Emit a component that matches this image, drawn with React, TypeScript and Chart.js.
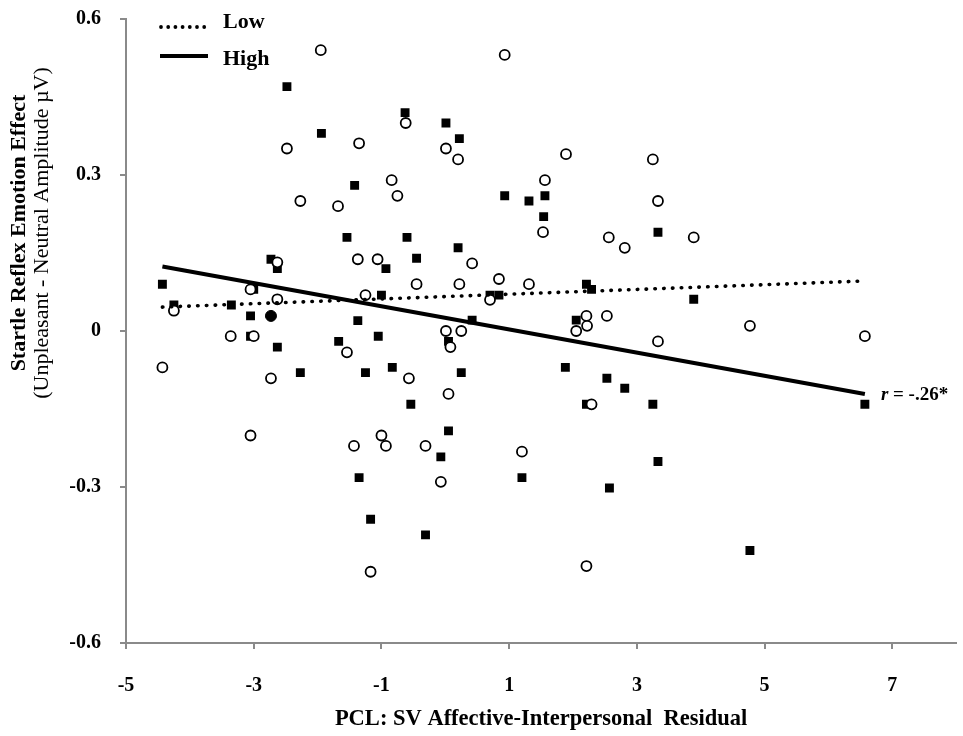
import { useEffect, useRef } from 'react';
import { Chart, registerables } from 'chart.js';

Chart.register(...registerables);

// ---- Data ----
const lowX = [
  -1.95, 0.93, -2.48, -1.35, -0.62, 0.01, 0.2, -0.84, -0.75, -2.27,
  -1.68, 1.89, 3.25, 1.56, 3.33, 1.53, 2.56, 2.81, 3.89, -2.63,
  -1.37, -1.06, 0.42, -0.45, 0.22, 0.84, 1.31, 0.7, -3.05, -2.63,
  -1.25, -4.25, 2.21, 2.22, 2.05, 2.53, 0.01, 0.25, 0.08, 3.33,
  -3.36, -3.0, -1.54, -4.43, -2.73, -0.57, 0.05, 2.29, 4.77, 6.57,
  -3.05, -1.43, -1.0, -0.93, -0.31, -0.07, 1.2, -1.17, 2.21,
];
const lowY = [
  0.54, 0.531, 0.351, 0.361, 0.4, 0.351, 0.33, 0.29, 0.26, 0.25,
  0.24, 0.34, 0.33, 0.29, 0.25, 0.19, 0.18, 0.16, 0.18, 0.132,
  0.138, 0.138, 0.13, 0.09, 0.09, 0.1, 0.09, 0.06, 0.08, 0.061,
  0.069, 0.039, 0.029, 0.01, 0.0, 0.029, 0.0, 0.0, -0.031, -0.02,
  -0.01, -0.01, -0.041, -0.07, -0.091, -0.091, -0.121, -0.141, 0.01, -0.01,
  -0.201, -0.221, -0.201, -0.221, -0.221, -0.29, -0.232, -0.463, -0.452,
];
const highX = [
  -2.48, -0.63, -1.94, 0.01, 0.22, -1.42, 0.93, 1.31, 1.56, 1.54,
  3.33, -1.54, -0.6, 0.2, -0.45, -2.73, -2.63, -0.93, -4.43, -3.0,
  -1.0, 0.7, 0.84, 2.21, 2.29, -4.25, -3.35, -3.05, -1.37, 0.42,
  2.05, 3.89, -3.05, -1.05, -2.63, -1.67, 0.05, -2.27, -1.25, -0.83,
  0.25, 1.88, 2.53, 2.81, -0.54, 2.21, 3.25, 6.57, 0.05, -0.07,
  -1.35, 1.2, 3.33, 2.57, -1.17, -0.31, 4.77,
];
const highY = [
  0.47, 0.42, 0.38, 0.4, 0.37, 0.28, 0.26, 0.25, 0.26, 0.22,
  0.19, 0.18, 0.18, 0.16, 0.14, 0.138, 0.12, 0.12, 0.09, 0.08,
  0.069, 0.069, 0.069, 0.09, 0.08, 0.05, 0.05, 0.029, 0.02, 0.021,
  0.021, 0.061, -0.01, -0.01, -0.031, -0.02, -0.02, -0.08, -0.08, -0.07,
  -0.08, -0.07, -0.091, -0.11, -0.141, -0.141, -0.141, -0.141, -0.192, -0.242,
  -0.282, -0.282, -0.251, -0.302, -0.362, -0.392, -0.422,
];
// overlapping (filled) point
const bothX = [-2.73];
const bothY = [0.029];

// fitted regression lines (end points)
const lowFitX = [-4.43, 6.52];
const lowFitY = [0.046, 0.096];
const highFitX = [-4.43, 6.57];
const highFitY = [0.124, -0.121];

const xTicks = [-5, -3, -1, 1, 3, 5, 7];
const yTicks = [-0.6, -0.3, 0, 0.3, 0.6];

const xTitle = 'PCL: SV Affective-Interpersonal  Residual';
const yTitleMain = 'Startle Reflex Emotion Effect';
const yTitleSub = '(Unpleasant - Neutral Amplitude \u00b5V)';
const legendLow = 'Low';
const legendHigh = 'High';
const rLabelItalic = 'r';
const rLabelRest = ' = -.26*';

const FONT = "'Liberation Serif', 'Times New Roman', serif";
const AXIS_GRAY = '#8a8a8a';

const pts = (xs: number[], ys: number[]) => xs.map((x, i) => ({ x, y: ys[i] }));

export default function App() {
  const ref = useRef<HTMLCanvasElement>(null);

  useEffect(() => {
    if (!ref.current) return;

    const overlay = {
      id: 'overlay',
      afterDraw(chart: any) {
        const ctx = chart.ctx as CanvasRenderingContext2D;
        const xs = chart.scales.x;
        const ys = chart.scales.y;
        const { left, top } = chart.chartArea;
        ctx.save();
        ctx.fillStyle = '#000';
        ctx.strokeStyle = '#000';

        // y-axis title (two lines, rotated)
        ctx.save();
        ctx.translate(19, 233);
        ctx.rotate(-Math.PI / 2);
        ctx.textAlign = 'center';
        ctx.textBaseline = 'middle';
        ctx.font = `bold 22px ${FONT}`;
        ctx.fillText(yTitleMain, 0, 0);
        ctx.font = `22px ${FONT}`;
        ctx.fillText(yTitleSub, 0, 23);
        ctx.restore();

        // legend
        const lx = left + 35;
        const dotY = top + 8;
        for (let i = 0; i < 7; i++) {
          ctx.beginPath();
          ctx.arc(lx + i * 7.2, dotY, 1.9, 0, Math.PI * 2);
          ctx.fill();
        }
        ctx.font = `bold 22px ${FONT}`;
        ctx.textAlign = 'left';
        ctx.textBaseline = 'alphabetic';
        ctx.fillText(legendLow, lx + 62, top + 9);
        ctx.lineWidth = 4;
        ctx.beginPath();
        ctx.moveTo(lx - 1, top + 37);
        ctx.lineTo(lx + 47, top + 37);
        ctx.stroke();
        ctx.fillText(legendHigh, lx + 62, top + 46);

        // r annotation at end of High fit line
        const ax = xs.getPixelForValue(highFitX[1]) + 16;
        const ay = ys.getPixelForValue(highFitY[1]) + 1;
        ctx.textBaseline = 'middle';
        ctx.font = `italic bold 19px ${FONT}`;
        ctx.fillText(rLabelItalic, ax, ay);
        const w = ctx.measureText(rLabelItalic).width;
        ctx.font = `bold 19px ${FONT}`;
        ctx.fillText(rLabelRest, ax + w, ay);

        ctx.restore();
      },
    };

    const chart = new Chart(ref.current, {
      type: 'scatter',
      data: {
        datasets: [
          {
            type: 'line',
            label: 'High fit',
            data: pts(highFitX, highFitY),
            borderColor: '#000',
            borderWidth: 4,
            pointRadius: 0,
            fill: false,
            order: 0,
          } as any,
          {
            type: 'line',
            label: 'Low fit',
            data: pts(lowFitX, lowFitY),
            borderColor: '#000',
            borderWidth: 3.6,
            borderDash: [0.5, 8.3],
            borderCapStyle: 'round',
            pointRadius: 0,
            fill: false,
            order: 1,
          } as any,
          {
            label: 'Low',
            data: pts(lowX, lowY),
            pointStyle: 'circle',
            pointRadius: 5,
            pointBorderWidth: 1.8,
            pointBorderColor: '#000',
            pointBackgroundColor: '#fff',
            order: 2,
          },
          {
            label: 'Both',
            data: pts(bothX, bothY),
            pointStyle: 'circle',
            pointRadius: 5.5,
            pointBorderWidth: 1,
            pointBorderColor: '#000',
            pointBackgroundColor: '#000',
            order: 3,
          },
          {
            label: 'High',
            data: pts(highX, highY),
            pointStyle: 'rect',
            pointRadius: 6.3,
            pointBorderWidth: 0,
            pointBorderColor: '#000',
            pointBackgroundColor: '#000',
            order: 4,
          },
        ],
      },
      options: {
        responsive: false,
        animation: false,
        events: [],
        layout: { padding: { top: 19, right: 5, left: 0, bottom: 0 } },
        plugins: {
          legend: { display: false },
          tooltip: { enabled: false },
        },
        scales: {
          x: {
            type: 'linear',
            min: -5,
            max: 8,
            afterBuildTicks: (s: any) => {
              s.ticks = xTicks.map((v) => ({ value: v }));
            },
            afterFit: (s: any) => {
              s.height = 93;
              s.paddingLeft = 0;
              s.paddingRight = 0;
              s.paddingTop = 0;
              s.paddingBottom = 0;
            },
            grid: {
              display: true,
              drawOnChartArea: false,
              drawTicks: true,
              tickLength: 6,
              color: AXIS_GRAY,
              lineWidth: 2,
            },
            border: { display: true, color: AXIS_GRAY, width: 2 },
            ticks: {
              color: '#000',
              font: { family: FONT, size: 20, weight: 'bold' },
              padding: 25,
              maxRotation: 0,
              autoSkip: false,
            },
            title: {
              display: true,
              text: xTitle,
              color: '#000',
              font: { family: FONT, size: 22.5, weight: 'bold' },
              padding: { top: 0, bottom: 3 },
            },
          },
          y: {
            type: 'linear',
            min: -0.6,
            max: 0.6,
            afterBuildTicks: (s: any) => {
              s.ticks = yTicks.map((v) => ({ value: v }));
            },
            afterFit: (s: any) => {
              s.width = 126;
              s.paddingLeft = 0;
              s.paddingRight = 0;
              s.paddingTop = 0;
              s.paddingBottom = 0;
            },
            grid: {
              display: true,
              drawOnChartArea: false,
              drawTicks: true,
              tickLength: 6,
              color: AXIS_GRAY,
              lineWidth: 2,
            },
            border: { display: true, color: AXIS_GRAY, width: 2 },
            ticks: {
              color: '#000',
              font: { family: FONT, size: 20, weight: 'bold' },
              padding: 19,
              callback: (v: any) => String(Math.round(Number(v) * 10) / 10),
            },
          },
        },
      },
      plugins: [overlay],
    } as any);

    return () => chart.destroy();
  }, []);

  return (
    <div style={{ position: 'absolute', left: 0, top: 0, width: 963, height: 736, background: '#fff' }}>
      <canvas ref={ref} width={963} height={736} style={{ display: 'block' }} />
    </div>
  );
}
